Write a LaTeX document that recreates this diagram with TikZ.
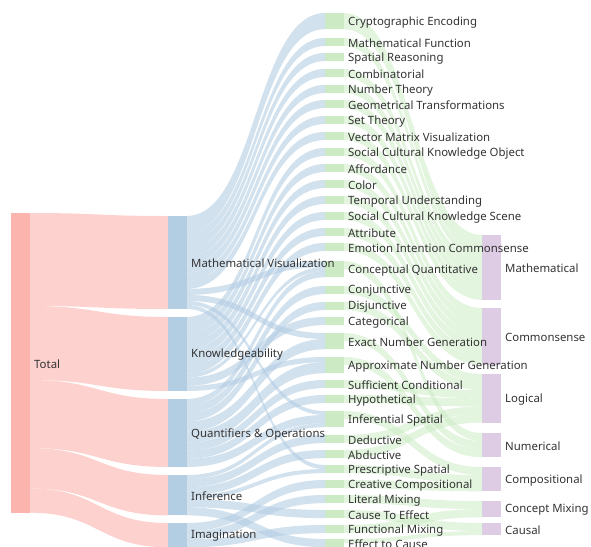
\documentclass[tikz,border=0pt]{standalone}
\usepackage{fontspec}
\setmainfont{Noto Sans}
\definecolor{pk}{HTML}{FBB4AE}
\definecolor{bl}{HTML}{B3CDE3}
\definecolor{gr}{HTML}{CCEBC5}
\definecolor{pu}{HTML}{DECBE4}
\definecolor{txt}{HTML}{333333}
\tikzset{
  bar/.style={draw=none, inner sep=0pt, outer sep=0pt, minimum width=18.5pt, anchor=north west, rectangle},
  lbl/.style={anchor=west, xshift=4.5pt, yshift=-1pt, inner sep=0pt, font=\fontsize{11.4}{13}\selectfont, text=txt},
  pkl/.style={fill=pk, fill opacity=0.6},
  bll/.style={fill=bl, fill opacity=0.6},
  grl/.style={fill=gr, fill opacity=0.55},
}
% node: name, x left, top, height, colour
\newcommand\sknode[5]{%
  \pgfmathsetmacro\skxr{#2+18.5}%
  \expandafter\xdef\csname xl@#1\endcsname{#2}%
  \expandafter\xdef\csname xr@#1\endcsname{\skxr}%
  \expandafter\xdef\csname o@#1\endcsname{#3}%
  \expandafter\xdef\csname i@#1\endcsname{#3}%
  \node[bar, fill=#5, minimum height=#4pt] (#1) at (#2,#3) {};%
}
% link: source, target, width, style
\newcommand\sklink[4]{%
  \pgfmathsetmacro\ska{\csname o@#1\endcsname}%
  \pgfmathsetmacro\skb{\csname i@#2\endcsname}%
  \pgfmathsetmacro\skaa{\ska+#3}%
  \pgfmathsetmacro\skbb{\skb+#3}%
  \edef\skxa{\csname xr@#1\endcsname}%
  \edef\skxb{\csname xl@#2\endcsname}%
  \pgfmathsetmacro\skxm{(\skxa+\skxb)/2}%
  \expandafter\xdef\csname o@#1\endcsname{\skaa}%
  \expandafter\xdef\csname i@#2\endcsname{\skbb}%
  \fill[#4] (\skxa,\ska) .. controls (\skxm,\ska) and (\skxm,\skb) .. (\skxb,\skb)
     -- (\skxb,\skbb) .. controls (\skxm,\skbb) and (\skxm,\skaa) .. (\skxa,\skaa) -- cycle;%
}
\begin{document}
\begin{tikzpicture}[x=1pt,y=-1pt]
\useasboundingbox (0,0) rectangle (591,546);
\begin{scope}
\clip (0,0) rectangle (591,546);
% level 0
\sknode{T}{11}{213}{299.7}{pk}
% level 1
\sknode{MV}{168}{216}{93}{bl}
\sknode{KN}{168}{317}{74}{bl}
\sknode{QO}{168}{399}{68}{bl}
\sknode{IF}{168}{475}{40.4}{bl}
\sknode{IM}{168}{523}{24.3}{bl}
% level 2
\sknode{crypto}{325}{13}{16.2}{gr}
\sknode{mfunc}{325}{38}{8.1}{gr}
\sknode{spatial}{325}{53}{8.1}{gr}
\sknode{combi}{325}{69}{8.1}{gr}
\sknode{numth}{325}{85}{8.1}{gr}
\sknode{geo}{325}{100}{8.1}{gr}
\sknode{sett}{325}{116}{8.1}{gr}
\sknode{vecmat}{325}{132}{8.1}{gr}
\sknode{scko}{325}{148}{8.1}{gr}
\sknode{afford}{325}{164}{8.1}{gr}
\sknode{color}{325}{180}{8.1}{gr}
\sknode{temporal}{325}{196}{8.1}{gr}
\sknode{scks}{325}{212}{8.1}{gr}
\sknode{attr}{325}{228}{8.1}{gr}
\sknode{emotion}{325}{243}{8.1}{gr}
\sknode{concq}{325}{261}{16.2}{gr}
\sknode{conj}{325}{286}{8.1}{gr}
\sknode{disj}{325}{302}{8.1}{gr}
\sknode{categ}{325}{317}{8.1}{gr}
\sknode{exact}{325}{333}{16.2}{gr}
\sknode{approx}{325}{357}{16.2}{gr}
\sknode{suff}{325}{380}{8.1}{gr}
\sknode{hypo}{325}{395}{8.1}{gr}
\sknode{infsp}{325}{411}{16.2}{gr}
\sknode{deduct}{325}{435}{8.1}{gr}
\sknode{abduct}{325}{450}{8.1}{gr}
\sknode{prescr}{325}{465}{8.1}{gr}
\sknode{creat}{325}{480}{8.1}{gr}
\sknode{literal}{325}{495}{8.1}{gr}
\sknode{ctoe}{325}{510}{8.1}{gr}
\sknode{funcmix}{325}{525}{8.1}{gr}
\sknode{etoc}{325}{539}{8.1}{gr}
% level 3
\sknode{Pmath}{482}{235}{64.8}{pu}
\sknode{Pcs}{482}{308}{56.7}{pu}
\sknode{Plog}{482}{374}{48.6}{pu}
\sknode{Pnum}{482}{433}{24.3}{pu}
\sknode{Pcomp}{482}{467}{24.3}{pu}
\sknode{Pcm}{482}{501}{16.2}{pu}
\sknode{Pcau}{482}{523}{12.1}{pu}
% links level 0 -> 1
\sklink{T}{MV}{93}{pkl}
\sklink{T}{KN}{74}{pkl}
\sklink{T}{QO}{68}{pkl}
\sklink{T}{IF}{40.4}{pkl}
\sklink{T}{IM}{24.3}{pkl}
% links level 1 -> 2
\sklink{MV}{crypto}{16.2}{bll}
\sklink{MV}{mfunc}{8.1}{bll}
\sklink{MV}{spatial}{8.1}{bll}
\sklink{MV}{combi}{8.1}{bll}
\sklink{MV}{numth}{8.1}{bll}
\sklink{MV}{geo}{8.1}{bll}
\sklink{MV}{sett}{8.1}{bll}
\sklink{MV}{vecmat}{8.1}{bll}
\sklink{MV}{concq}{6}{bll}
\sklink{MV}{exact}{6}{bll}
\sklink{MV}{infsp}{4}{bll}
\sklink{MV}{prescr}{4.1}{bll}
\sklink{KN}{scko}{8.1}{bll}
\sklink{KN}{afford}{8.1}{bll}
\sklink{KN}{color}{8.1}{bll}
\sklink{KN}{temporal}{8.1}{bll}
\sklink{KN}{scks}{8.1}{bll}
\sklink{KN}{attr}{8.1}{bll}
\sklink{KN}{emotion}{8.1}{bll}
\sklink{KN}{concq}{4}{bll}
\sklink{KN}{categ}{8.1}{bll}
\sklink{KN}{approx}{5.2}{bll}
\sklink{QO}{concq}{6.2}{bll}
\sklink{QO}{conj}{8.1}{bll}
\sklink{QO}{disj}{8.1}{bll}
\sklink{QO}{exact}{10.2}{bll}
\sklink{QO}{approx}{11}{bll}
\sklink{QO}{suff}{8.1}{bll}
\sklink{QO}{hypo}{8.1}{bll}
\sklink{QO}{infsp}{8.2}{bll}
\sklink{IF}{infsp}{4}{bll}
\sklink{IF}{deduct}{8.1}{bll}
\sklink{IF}{abduct}{8.1}{bll}
\sklink{IF}{prescr}{4}{bll}
\sklink{IF}{ctoe}{8.1}{bll}
\sklink{IF}{etoc}{8.1}{bll}
\sklink{IM}{creat}{8.1}{bll}
\sklink{IM}{literal}{8.1}{bll}
\sklink{IM}{funcmix}{8.1}{bll}
% links level 2 -> 3
\sklink{crypto}{Pmath}{16.2}{grl}
\sklink{mfunc}{Pmath}{8.1}{grl}
\sklink{combi}{Pmath}{8.1}{grl}
\sklink{numth}{Pmath}{8.1}{grl}
\sklink{geo}{Pmath}{8.1}{grl}
\sklink{sett}{Pmath}{8.1}{grl}
\sklink{vecmat}{Pmath}{8.1}{grl}
\sklink{scko}{Pcs}{8.1}{grl}
\sklink{afford}{Pcs}{8.1}{grl}
\sklink{color}{Pcs}{8.1}{grl}
\sklink{temporal}{Pcs}{8.1}{grl}
\sklink{scks}{Pcs}{8.1}{grl}
\sklink{attr}{Pcs}{8.1}{grl}
\sklink{emotion}{Pcs}{8.1}{grl}
\sklink{concq}{Pnum}{8.1}{grl}
\sklink{conj}{Plog}{8.1}{grl}
\sklink{disj}{Plog}{8.1}{grl}
\sklink{exact}{Pnum}{8.1}{grl}
\sklink{approx}{Pnum}{8.1}{grl}
\sklink{suff}{Plog}{8.1}{grl}
\sklink{hypo}{Plog}{8.1}{grl}
\sklink{infsp}{Pcomp}{8.1}{grl}
\sklink{deduct}{Plog}{8.1}{grl}
\sklink{abduct}{Plog}{8.1}{grl}
\sklink{prescr}{Pcomp}{8.1}{grl}
\sklink{creat}{Pcomp}{8.1}{grl}
\sklink{literal}{Pcm}{8.1}{grl}
\sklink{ctoe}{Pcau}{8.1}{grl}
\sklink{funcmix}{Pcm}{8.1}{grl}
\sklink{etoc}{Pcau}{4}{grl}
% labels
\node[lbl] (T-l) at (T.east) {Total};
\node[lbl] (MV-l) at (MV.east) {Mathematical Visualization};
\node[lbl] (KN-l) at (KN.east) {Knowledgeability};
\node[lbl] (QO-l) at (QO.east) {Quantifiers \& Operations};
\node[lbl] (IF-l) at (IF.east) {Inference};
\node[lbl] (IM-l) at (IM.east) {Imagination};
\node[lbl] (crypto-l) at (crypto.east) {Cryptographic Encoding};
\node[lbl] (mfunc-l) at (mfunc.east) {Mathematical Function};
\node[lbl] (spatial-l) at (spatial.east) {Spatial Reasoning};
\node[lbl] (combi-l) at (combi.east) {Combinatorial};
\node[lbl] (numth-l) at (numth.east) {Number Theory};
\node[lbl] (geo-l) at (geo.east) {Geometrical Transformations};
\node[lbl] (sett-l) at (sett.east) {Set Theory};
\node[lbl] (vecmat-l) at (vecmat.east) {Vector Matrix Visualization};
\node[lbl] (scko-l) at (scko.east) {Social Cultural Knowledge Object};
\node[lbl] (afford-l) at (afford.east) {Affordance};
\node[lbl] (color-l) at (color.east) {Color};
\node[lbl] (temporal-l) at (temporal.east) {Temporal Understanding};
\node[lbl] (scks-l) at (scks.east) {Social Cultural Knowledge Scene};
\node[lbl] (attr-l) at (attr.east) {Attribute};
\node[lbl] (emotion-l) at (emotion.east) {Emotion Intention Commonsense};
\node[lbl] (concq-l) at (concq.east) {Conceptual Quantitative};
\node[lbl] (conj-l) at (conj.east) {Conjunctive};
\node[lbl] (disj-l) at (disj.east) {Disjunctive};
\node[lbl] (categ-l) at (categ.east) {Categorical};
\node[lbl] (exact-l) at (exact.east) {Exact Number Generation};
\node[lbl] (approx-l) at (approx.east) {Approximate Number Generation};
\node[lbl] (suff-l) at (suff.east) {Sufficient Conditional};
\node[lbl] (hypo-l) at (hypo.east) {Hypothetical};
\node[lbl] (infsp-l) at (infsp.east) {Inferential Spatial};
\node[lbl] (deduct-l) at (deduct.east) {Deductive};
\node[lbl] (abduct-l) at (abduct.east) {Abductive};
\node[lbl] (prescr-l) at (prescr.east) {Prescriptive Spatial};
\node[lbl] (creat-l) at (creat.east) {Creative Compositional};
\node[lbl] (literal-l) at (literal.east) {Literal Mixing};
\node[lbl] (ctoe-l) at (ctoe.east) {Cause To Effect};
\node[lbl] (funcmix-l) at (funcmix.east) {Functional Mixing};
\node[lbl] (etoc-l) at (etoc.east) {Effect to Cause};
\node[lbl] (Pmath-l) at (Pmath.east) {Mathematical};
\node[lbl] (Pcs-l) at (Pcs.east) {Commonsense};
\node[lbl] (Plog-l) at (Plog.east) {Logical};
\node[lbl] (Pnum-l) at (Pnum.east) {Numerical};
\node[lbl] (Pcomp-l) at (Pcomp.east) {Compositional};
\node[lbl] (Pcm-l) at (Pcm.east) {Concept Mixing};
\node[lbl] (Pcau-l) at (Pcau.east) {Causal};
\end{scope}
\end{tikzpicture}
\end{document}
